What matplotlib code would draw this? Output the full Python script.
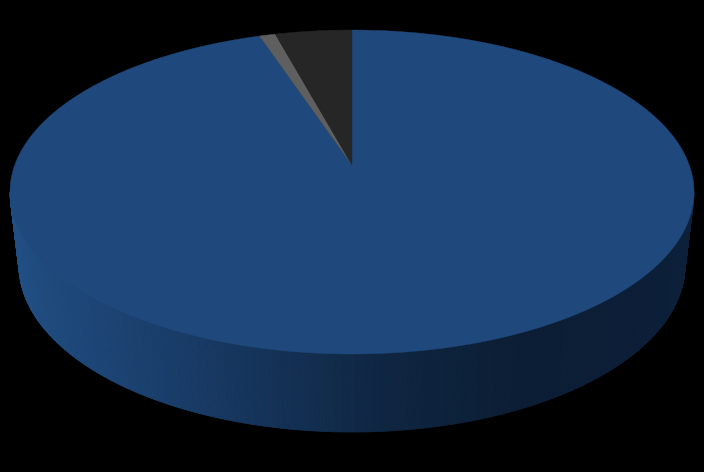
import numpy as np
import matplotlib
matplotlib.use("Agg")
import matplotlib.pyplot as plt

# Slice shares, clockwise from 12 o'clock
slice_names = ["Main", "Small", "Tiny"]
slice_values = [95.65, 0.75, 3.6]
slice_colors = ["#1F497D", "#5F5F5F", "#262626"]

W, H = 704, 472
fig = plt.figure(figsize=(W / 100, H / 100), dpi=100, facecolor="black")
ax = fig.add_axes([0, 0, 1, 1])
ax.set_xlim(0, W)
ax.set_ylim(H, 0)
ax.axis("off")

CX, CY, RX, RY = 352, 192, 342, 162
BX, BY, BRX, BRY = 352, 265, 333, 167
APEX = (352, 165)

# side wall as shaded strips (visible lower half)
stops_x = [-1, -0.6, -0.2, 0.1, 0.5, 1]
stops_c = np.array([[0x21, 0x4F, 0x84], [0x1B, 0x40, 0x6E], [0x14, 0x31, 0x55],
                    [0x0F, 0x26, 0x42], [0x0C, 0x1E, 0x35], [0x0D, 0x20, 0x3A]]) / 255
angles = np.linspace(np.pi, 0, 361)
for a0, a1 in zip(angles[:-1], angles[1:]):
    t = np.linspace(a0, a1, 4)
    xs = np.r_[CX + RX * np.cos(t), BX + BRX * np.cos(t[::-1])]
    ys = np.r_[CY + RY * np.sin(t), BY + BRY * np.sin(t[::-1])]
    u = np.cos((a0 + a1) / 2)
    c = [np.interp(u, stops_x, stops_c[:, i]) for i in range(3)]
    ax.fill(xs, ys, color=c, lw=0.6)

# top face wedges, from the values
total = sum(slice_values)
start = 0.0
for v, c in zip(slice_values, slice_colors):
    end = start + v / total * 2 * np.pi
    t = np.linspace(start, end, 600)
    xs = np.r_[APEX[0], CX + RX * np.sin(t)]
    ys = np.r_[APEX[1], CY - RY * np.cos(t)]
    ax.fill(xs, ys, color=c, lw=0.3)
    start = end

fig.savefig("out.png", dpi=100, facecolor="black")
